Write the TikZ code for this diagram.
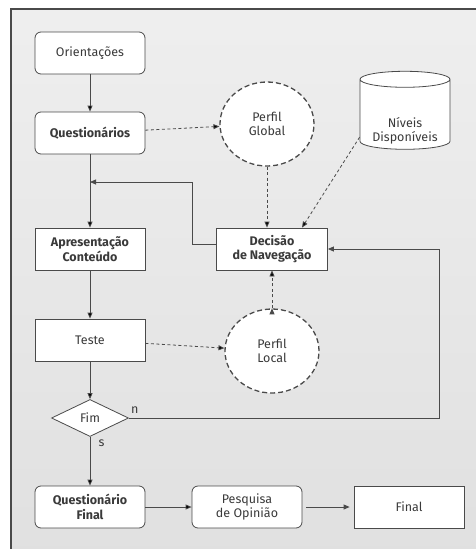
\documentclass[tikz,border=0pt]{standalone}
\usepackage{fontspec}
\setmainfont{Fira Sans}
\usetikzlibrary{positioning,shapes.geometric,arrows.meta}

\definecolor{linegray}{HTML}{4A4A4A}
\definecolor{textgray}{HTML}{3A3A3A}

\begin{document}
\begin{tikzpicture}[x=1pt,y=-1pt,node distance=80pt,on grid,
  font=\fontsize{12.5}{14.5}\selectfont, text=textgray,
  box/.style={draw=linegray,fill=white,line width=0.8pt,minimum width=110pt,minimum height=42pt,align=center},
  rbox/.style={box,rounded corners=6pt},
  bolder/.style={font=\fontsize{12.5}{14.5}\selectfont\bfseries},
  perfil/.style={ellipse,draw=linegray,fill=white,dashed,line width=1.3pt,dash pattern=on 5pt off 3pt,minimum width=94pt,minimum height=84pt,align=center},
  arr/.style={draw=linegray,line width=0.8pt,-{Triangle[length=6pt,width=5pt]}},
  darr/.style={arr,dash pattern=on 3pt off 2.5pt}]

\useasboundingbox (0,0) rectangle (476,549);
\shade[top color=gray!13,bottom color=gray!24] (11,9) rectangle (476,549);
\draw[linegray,line width=1.4pt] (476,9) -- (11,9) -- (11,549);

% left column
\node[rbox] (orient) at (90,53) {Orientações};
\node[rbox,bolder] (quest) [below=of orient] {Questionários};
\node[box,bolder] (apres) [below=116pt of quest] {Apresentação\\Conteúdo};
\node[box] (teste) [below=91pt of apres] {Teste};
\node[diamond,draw=linegray,fill=white,line width=0.8pt,aspect=2.1,inner sep=1pt,minimum width=77pt,minimum height=37pt] (fim) [below=78pt of teste] {Fim};
\node[rbox,bolder] (qfinal) [below=89pt of fim] {Questionário\\Final};
\node[rbox] (pesquisa) [right=157pt of qfinal] {Pesquisa\\de Opinião};
\node[box] (final) [right=162pt of pesquisa] {Final};

% profiles and navigation
\node[perfil] (gperfil) at (267,124) {Perfil\\Global};
\node[cylinder,shape border rotate=90,draw=linegray,fill=white,line width=0.8pt,aspect=2.4,minimum width=90pt,minimum height=78pt,
  label={[align=center,yshift=-15pt]center:Níveis\\Disponíveis}] (niveis) at (405,116) {};
\node[box,bolder,minimum width=111pt] (decisao) at (272,249) {Decisão\\de Navegação};
\node[perfil] (lperfil) at (272,351) {Perfil\\Local};

\coordinate (join) at (90,182);
\coordinate (loopc) at (439,418);

\path[arr]
(orient) edge (quest)
(quest) edge (apres)
(apres) edge (teste)
(teste) edge (fim)
(fim) edge node[pos=0.12,right=5pt] {s} (qfinal)
(qfinal) edge (pesquisa)
; %end path
\draw[arr,shorten <=4pt,shorten >=4pt] (pesquisa) -- (final);

\draw[arr] ([yshift=5pt]decisao.west) -- ++(-24,0) |- (join);
\draw[arr] (fim.east) -- (loopc) |- (decisao.east);
\node at ([xshift=6pt,yshift=8pt]fim.east) {n};

\path[darr]
(quest) edge (gperfil)
(teste) edge (lperfil)
(gperfil.south) edge (gperfil.south |- decisao.north)
(niveis.205) edge ([xshift=30pt]decisao.north)
(lperfil.north) edge (lperfil.north |- decisao.south)
; %end path
\end{tikzpicture}
\end{document}
